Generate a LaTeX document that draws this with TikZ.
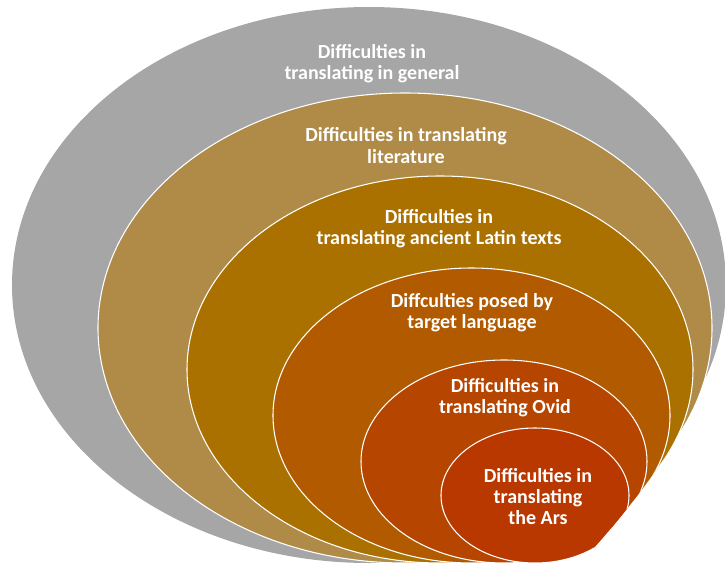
\documentclass[tikz,border=0pt]{standalone}
\usepackage{fontspec}
\setmainfont{Carlito}
\usepackage{tikz}

\definecolor{ringgray}{HTML}{A6A6A6}
\definecolor{ringtan}{HTML}{AF8B47}
\definecolor{ringgold}{HTML}{AA7000}
\definecolor{ringamber}{HTML}{B15A00}
\definecolor{ringrust}{HTML}{B64500}
\definecolor{ringred}{HTML}{B93800}

\begin{document}
\begin{tikzpicture}[x=0.75pt, y=0.75pt,
		ring/.style={fill=#1, draw=white, line width=0.8pt},
		ringlabel/.style={text=white, align=center, font=\bfseries\fontsize{15}{15.9}\selectfont}]
		
		% 1. Marco de la imagen (pixeles)
		\useasboundingbox (0,0) rectangle (725,-564);
		
		% 2. Elipses anidadas, tangentes abajo (cx/cy/rx/ry/color)
		\begin{scope}
			\clip (-101,70) circle (930);
			\fill[ringgray] (369,-285) ellipse [x radius=357, y radius=278];
			\foreach \cx/\cy/\rx/\ry/\col in {405/328/307/235/ringtan, 440/369.5/253/193.5/ringgold,
				471.5/415.5/198.5/147.5/ringamber, 504/461.5/143/101.5/ringrust, 535/495.5/94/67.5/ringred}
			\draw[ring=\col] (\cx,-\cy) ellipse [x radius=\rx, y radius=\ry];
		\end{scope}
		
		% 3. Etiquetas
		\node[ringlabel] (general) at (372,-63.5) {Difficulties in\\translating in general};
		\node[ringlabel] (literature) at (406,-145.5) {Difficulties in translating\\literature};
		\node[ringlabel] (latin) at (439,-228.5) {Difficulties in\\translating ancient Latin texts};
		\node[ringlabel] (target) at (472,-313) {Diffculties posed by\\target language};
		\node[ringlabel] (ovid) at (505,-398) {Difficulties in\\translating Ovid};
		\node[ringlabel] (ars) at (538,-496.5) {Difficulties in\\translating\\the Ars};
		
	\end{tikzpicture}
\end{document}
